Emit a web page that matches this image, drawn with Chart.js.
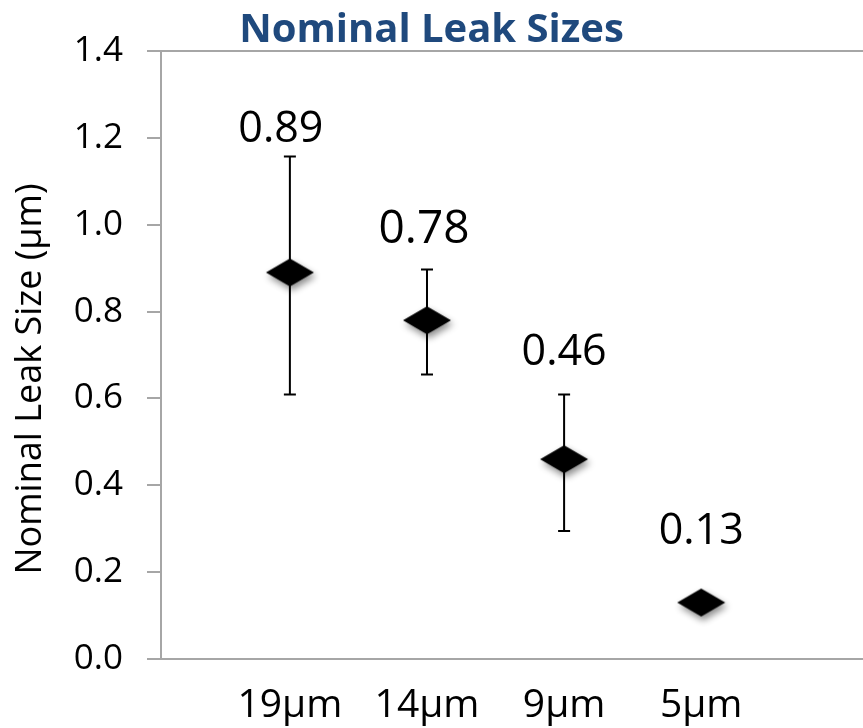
<!DOCTYPE html>
<html>
<head>
<meta charset="utf-8">
<script src="https://cdn.jsdelivr.net/npm/chart.js@4/dist/chart.umd.min.js"></script>
<style>
  html, body { margin: 0; padding: 0; background: #fff; overflow: hidden; }
  canvas { display: block; }
</style>
</head>
<body>
<canvas id="leakChart" width="863" height="728"></canvas>
<script>
const categories = ['19µm', '14µm', '9µm', '5µm'];
const leakSize = [0.89, 0.78, 0.46, 0.13];
const errHigh = [1.157, 0.897, 0.609, null];
const errLow = [0.609, 0.655, 0.295, null];
const yTicks = [0, 0.2, 0.4, 0.6, 0.8, 1.0, 1.2, 1.4];

const axisGray = '#a6a6a6';
const FONT = "'Open Sans', 'DejaVu Sans', sans-serif";

// value label placement, relative to each point (px)
const labelDx = [-9, -3, 0, 0];
const labelDy = [-143, -90, -106, -71];
const labelSize = [43, 46, 43, 43];

// flattened black diamond with a soft drop shadow
function makeDiamond(w, h) {
  const c = document.createElement('canvas');
  c.width = w + 24;
  c.height = h + 24;
  const g = c.getContext('2d');
  const cx = c.width / 2, cy = c.height / 2;
  g.shadowColor = 'rgba(0,0,0,0.45)';
  g.shadowBlur = 7;
  g.shadowOffsetX = 2;
  g.shadowOffsetY = 4;
  g.beginPath();
  g.moveTo(cx - w / 2, cy);
  g.lineTo(cx, cy - h / 2);
  g.lineTo(cx + w / 2, cy);
  g.lineTo(cx, cy + h / 2);
  g.closePath();
  g.fillStyle = '#000';
  g.fill();
  return c;
}
const diamond = makeDiamond(48, 28);

const errorBars = {
  id: 'errorBars',
  beforeDatasetsDraw(chart) {
    const { ctx, scales: { x, y } } = chart;
    ctx.save();
    ctx.strokeStyle = '#000';
    ctx.lineWidth = 2;
    leakSize.forEach((v, i) => {
      if (errHigh[i] == null) return;
      const px = x.getPixelForValue(i + 1);
      const top = y.getPixelForValue(errHigh[i]);
      const bot = y.getPixelForValue(errLow[i]);
      ctx.beginPath();
      ctx.moveTo(px, top); ctx.lineTo(px, bot);
      ctx.moveTo(px - 6, top); ctx.lineTo(px + 6, top);
      ctx.moveTo(px - 6, bot); ctx.lineTo(px + 6, bot);
      ctx.stroke();
    });
    ctx.restore();
  }
};

const valueLabels = {
  id: 'valueLabels',
  afterDatasetsDraw(chart) {
    const { ctx } = chart;
    const pts = chart.getDatasetMeta(0).data;
    ctx.save();
    ctx.fillStyle = '#000';
    ctx.textAlign = 'center';
    ctx.textBaseline = 'middle';
    pts.forEach((p, i) => {
      ctx.font = labelSize[i] + 'px ' + FONT;
      ctx.fillText(leakSize[i].toFixed(2), p.x + labelDx[i], p.y + labelDy[i]);
    });
    ctx.restore();
  }
};

const yAxisTitle = {
  id: 'yAxisTitle',
  afterDraw(chart) {
    const { ctx } = chart;
    ctx.save();
    ctx.translate(31, 379);
    ctx.rotate(-Math.PI / 2);
    ctx.font = '36px ' + FONT;
    ctx.fillStyle = '#000';
    ctx.textAlign = 'center';
    ctx.textBaseline = 'middle';
    ctx.fillText('Nominal Leak Size (µm)', 0, 0);
    ctx.restore();
  }
};

new Chart(document.getElementById('leakChart'), {
  type: 'scatter',
  data: {
    datasets: [{
      data: leakSize.map((v, i) => ({ x: i + 1, y: v })),
      pointStyle: diamond,
      showLine: false
    }]
  },
  options: {
    responsive: false,
    animation: false,
    events: [],
    layout: { padding: 0, autoPadding: false },
    plugins: {
      legend: { display: false },
      tooltip: { enabled: false },
      title: {
        display: true,
        text: 'Nominal Leak Sizes',
        color: '#1f497d',
        font: { family: FONT, size: 40, weight: 'bold', lineHeight: 1.0 },
        padding: { top: 11, bottom: 0 }
      }
    },
    scales: {
      x: {
        type: 'linear',
        min: 0.06,
        max: 5.18,
        grid: { display: false },
        border: { color: axisGray, width: 2 },
        afterBuildTicks: s => { s.ticks = categories.map((c, i) => ({ value: i + 1 })); },
        afterFit: s => { s.height = 69; },
        ticks: {
          color: '#000',
          padding: 15,
          maxRotation: 0,
          font: { family: FONT, size: 39 },
          callback: v => categories[v - 1] || ''
        }
      },
      y: {
        min: 0,
        max: 1.4,
        afterBuildTicks: s => { s.ticks = yTicks.map(v => ({ value: v })); },
        afterFit: s => { s.width = 161; },
        grid: {
          color: c => (c.tick && Math.abs(c.tick.value - 1.4) < 1e-9) ? axisGray : 'rgba(0,0,0,0)',
          tickColor: axisGray,
          tickLength: 14,
          lineWidth: 2
        },
        border: { color: axisGray, width: 2 },
        ticks: {
          color: '#000',
          padding: 24,
          font: { family: FONT, size: 35 },
          callback: v => v.toFixed(1)
        }
      }
    }
  },
  plugins: [errorBars, valueLabels, yAxisTitle]
});
</script>
</body>
</html>
